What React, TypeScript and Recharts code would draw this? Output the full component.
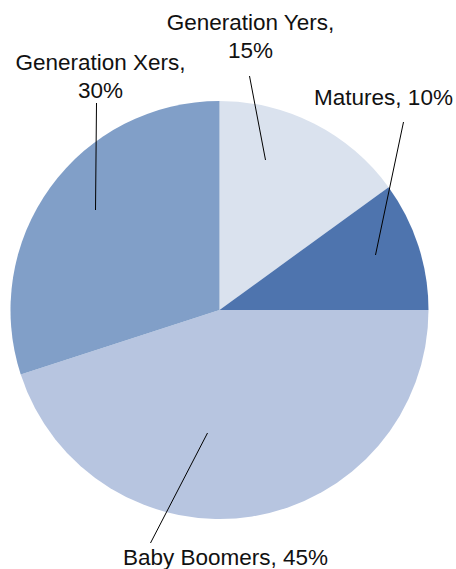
import React from "react";
import { PieChart, Pie, Cell } from "recharts";

const categories = ["Generation Yers", "Matures", "Baby Boomers", "Generation Xers"];
const shares = [15, 10, 45, 30];
const colors = ["#DAE2EE", "#4E74AE", "#B7C5E0", "#819FC8"];

const data = categories.map((name, i) => ({ name, value: shares[i] }));

// label layout, pixel offsets from the pie centre: leader line start/end, label centre, line break
const labelLayout = [
  { from: [46, -150], to: [30, -234], at: [31, -288], wrap: true },
  { from: [156, -55], to: [184, -188], at: [164, -213], wrap: false },
  { from: [-12, 123], to: [-69, 233], at: [6, 247], wrap: false },
  { from: [-124, -100], to: [-123, -207], at: [-119, -248], wrap: true },
];

const FONT = "'Liberation Sans', Arial, sans-serif";

const renderLabel = (props: any) => {
  const { cx, cy, index, name, value } = props;
  const l = labelLayout[index];
  const lines = l.wrap ? [name + ",", value + "%"] : [`${name}, ${value}%`];
  return (
    <g>
      <line x1={cx + l.from[0]} y1={cy + l.from[1]} x2={cx + l.to[0]} y2={cy + l.to[1]} stroke="#000" strokeWidth={1} />
      <text x={cx + l.at[0]} y={cy + l.at[1]} textAnchor="middle" fontFamily={FONT} fontSize={22.5} fill="#111">
        {lines.map((t, i) => (
          <tspan key={i} x={cx + l.at[0]} dy={i === 0 ? 8 : 28}>{t}</tspan>
        ))}
      </text>
    </g>
  );
};

export default function App() {
  return (
    <div style={{ position: "absolute", left: 0, top: 0, background: "#fff" }}>
      <PieChart width={456} height={569} margin={{ top: 0, right: 0, bottom: 0, left: 0 }}>
        <Pie
          data={data}
          dataKey="value"
          nameKey="name"
          cx={219.5}
          cy={310}
          outerRadius={209}
          startAngle={90}
          endAngle={-270}
          stroke="none"
          label={renderLabel}
          labelLine={false}
          isAnimationActive={false}
        >
          {data.map((d, i) => (
            <Cell key={d.name} fill={colors[i]} />
          ))}
        </Pie>
      </PieChart>
    </div>
  );
}
